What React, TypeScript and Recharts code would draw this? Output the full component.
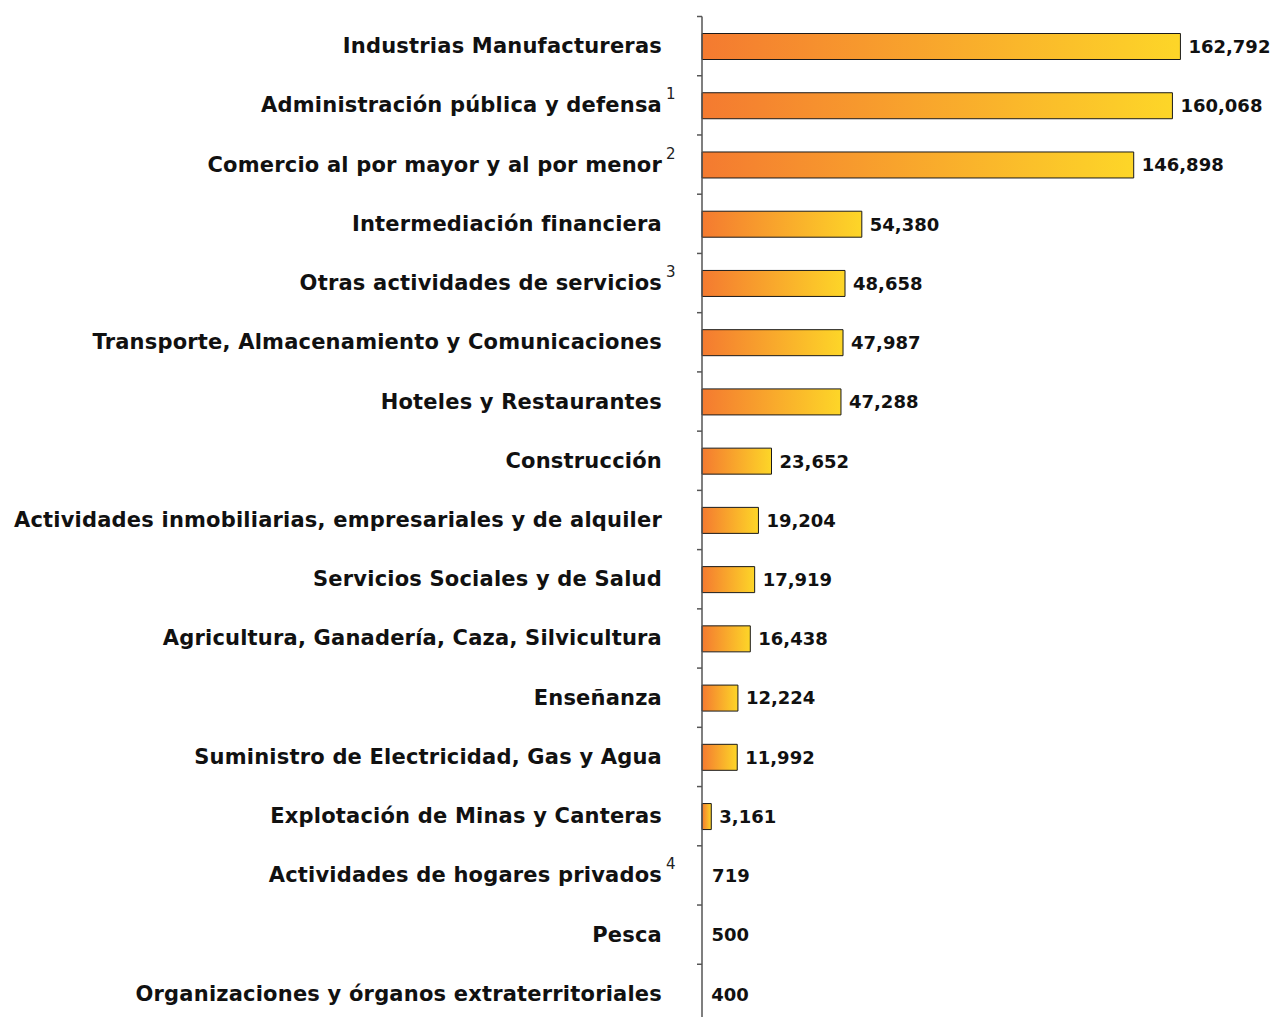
import React from "react";
import { BarChart, Bar, XAxis, YAxis, LabelList, Cell } from "recharts";

const categories = [
  "Industrias Manufactureras",
  "Administración pública y defensa",
  "Comercio al por mayor y al por menor",
  "Intermediación financiera",
  "Otras actividades de servicios",
  "Transporte, Almacenamiento y Comunicaciones",
  "Hoteles y Restaurantes",
  "Construcción",
  "Actividades inmobiliarias, empresariales y de alquiler",
  "Servicios Sociales y de Salud",
  "Agricultura, Ganadería, Caza, Silvicultura",
  "Enseñanza",
  "Suministro de Electricidad, Gas y Agua",
  "Explotación de Minas y Canteras",
  "Actividades de hogares privados",
  "Pesca",
  "Organizaciones y órganos extraterritoriales",
];
const values = [162792, 160068, 146898, 54380, 48658, 47987, 47288, 23652, 19204, 17919, 16438, 12224, 11992, 3161, 719, 500, 400];
const notes = ["", "1", "2", "", "3", "", "", "", "", "", "", "", "", "", "4", "", ""];

const data = categories.map((c, i) => ({ name: c, value: values[i], note: notes[i] }));

const W = 1272;
const H = 1040;
const M = { top: 16.5, right: 41, bottom: 16.5, left: 0 };
const AXIS_W = 702;
const BAND = (H - M.top - M.bottom) / categories.length;
const FONT = "'DejaVu Sans', sans-serif";

const Tick = (props: any) => {
  const { x, y, payload, index } = props;
  const axisX = AXIS_W;
  const note = notes[index] || "";
  return (
    <g>
      <line x1={axisX - 5} x2={axisX} y1={y - BAND / 2} y2={y - BAND / 2} stroke="#555" strokeWidth={1.5} />
      {index === categories.length - 1 && (
        <line x1={axisX - 5} x2={axisX} y1={y + BAND / 2} y2={y + BAND / 2} stroke="#555" strokeWidth={1.5} />
      )}
      <text x={x} y={y} textAnchor="end" dominantBaseline="central" fontFamily={FONT} fontWeight="bold" fontSize={21} letterSpacing={0.2} fill="#111">
        {payload.value}
      </text>
      {note && (
        <text x={x + 4} y={y - 11} textAnchor="start" dominantBaseline="central" fontFamily={FONT} fontSize={15} fill="#222">
          {note}
        </text>
      )}
    </g>
  );
};

const fmt = (v: any) => Number(v).toLocaleString("en-US");

export default function App() {
  return (
    <div style={{ position: "fixed", left: 0, top: 0, width: 1272, height: 1017, overflow: "hidden", background: "#fff" }}>
      <BarChart width={W} height={H} data={data} layout="vertical" margin={M} barCategoryGap={0}>
        <defs>
          <linearGradient id="barGrad" x1="0" y1="0" x2="1" y2="0">
            <stop offset="0%" stopColor="#F47A30" />
            <stop offset="100%" stopColor="#FDD628" />
          </linearGradient>
        </defs>
        <XAxis type="number" domain={[0, 180000]} hide />
        <YAxis
          type="category"
          dataKey="name"
          width={AXIS_W}
          tickLine={false}
          tickSize={6}
          tickMargin={34}
          tick={<Tick />}
          axisLine={{ stroke: "#555", strokeWidth: 1.5 }}
          interval={0}
        />
        <Bar dataKey="value" barSize={26} fill="url(#barGrad)" stroke="#1a1a1a" strokeWidth={1} isAnimationActive={false}>
          {data.map((d, i) => (
            <Cell key={i} fillOpacity={d.value < 1000 ? 0 : 1} strokeOpacity={d.value < 1000 ? 0 : 1} />
          ))}
          <LabelList
            dataKey="value"
            position="right"
            offset={8}
            formatter={fmt}
            style={{ fontFamily: FONT, fontWeight: "bold", fontSize: 18, fill: "#111" }}
          />
        </Bar>
      </BarChart>
    </div>
  );
}
